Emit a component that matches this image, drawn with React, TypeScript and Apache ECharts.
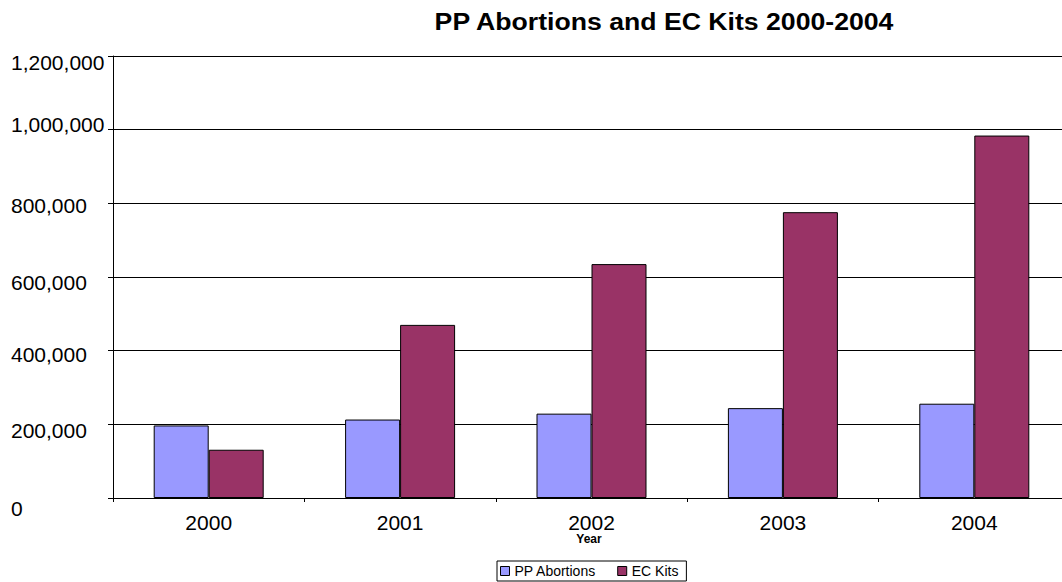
import React, { useEffect, useRef } from "react";
import * as echarts from "echarts";

const years = ["2000", "2001", "2002", "2003", "2004"];
const ppAbortions = [197000, 213000, 229000, 244000, 256000];
const ecKits = [131000, 470000, 635000, 776000, 984000];
const yTicks = [0, 200000, 400000, 600000, 800000, 1000000, 1200000];
const seriesNames = ["PP Abortions", "EC Kits"];
const titleText = "PP Abortions and EC Kits 2000-2004";
const xAxisTitle = "Year";

const FONT = '"Liberation Sans", Arial, Helvetica, sans-serif';

// small vertical nudges of y labels as seen in the reference (px, + = down)
const labelShift: Record<number, number> = {
  0: 10,
  200000: 6,
  400000: 4,
  600000: 5,
  800000: 2,
  1000000: -5,
  1200000: 6,
};

export default function App() {
  const ref = useRef<HTMLDivElement>(null);
  useEffect(() => {
    if (!ref.current) return;
    const chart = echarts.init(ref.current, undefined, { renderer: "svg" });
    const rich: Record<string, any> = {};
    yTicks.forEach((v, i) => {
      const d = labelShift[v] || 0;
      rich["s" + i] = {
        fontSize: 21,
        fontFamily: FONT,
        color: "#000",
        padding: d >= 0 ? [2 * d, 0, 0, 0] : [0, 0, -2 * d, 0],
      };
    });
    chart.setOption({
      animation: false,
      backgroundColor: "#fff",
      textStyle: { fontFamily: FONT },
      grid: { left: 113, right: 2, top: 56, bottom: 84, containLabel: false },
      legend: {
        data: seriesNames,
        left: 497,
        top: 561,
        orient: "horizontal",
        itemWidth: 9,
        itemHeight: 9,
        itemGap: 21,
        padding: [3, 8, 3, 3],
        borderColor: "#000",
        borderWidth: 1,
        icon: "rect",
        textStyle: { fontSize: 14, fontFamily: FONT, color: "#000", lineHeight: 14 },
        itemStyle: { borderColor: "#000", borderWidth: 1 },
      },
      xAxis: {
        type: "category",
        data: years,
        axisLine: { show: true, lineStyle: { color: "#000", width: 1 } },
        axisTick: { show: true, length: 4, lineStyle: { color: "#000" } },
        axisLabel: { fontSize: 21, fontFamily: FONT, color: "#000", margin: 14 },
        splitLine: { show: false },
      },
      yAxis: {
        type: "value",
        min: 0,
        max: 1200000,
        interval: 200000,
        axisLine: { show: true, lineStyle: { color: "#000", width: 1 } },
        axisTick: { show: true, length: 5, lineStyle: { color: "#000" } },
        splitLine: { show: true, lineStyle: { color: "#000", width: 1 } },
        axisLabel: {
          align: "left",
          margin: 102,
          formatter: (v: number) => {
            const i = yTicks.indexOf(v);
            return "{s" + i + "|" + v.toLocaleString("en-US") + "}";
          },
          rich,
        },
      },
      series: [
        {
          name: seriesNames[0],
          type: "bar",
          data: ppAbortions,
          barWidth: 55,
          barGap: "0%",
          itemStyle: { color: "#9999FF", borderColor: "#000", borderWidth: 1 },
        },
        {
          name: seriesNames[1],
          type: "bar",
          data: ecKits,
          barWidth: 55,
          barGap: "0%",
          itemStyle: { color: "#993366", borderColor: "#000", borderWidth: 1 },
        },
      ],
      graphic: [
        {
          type: "text",
          x: 664,
          y: 21,
          scaleX: 1.11,
          style: {
            text: titleText,
            fontSize: 24,
            fontWeight: "bold",
            fontFamily: FONT,
            fill: "#000",
            align: "center",
            verticalAlign: "middle",
            textAlign: "center",
            textVerticalAlign: "middle",
          },
        },
        {
          type: "text",
          x: 589,
          y: 539,
          style: {
            text: xAxisTitle,
            fontSize: 12,
            fontWeight: "bold",
            fontFamily: FONT,
            fill: "#000",
            align: "center",
            verticalAlign: "middle",
            textAlign: "center",
            textVerticalAlign: "middle",
          },
        },
      ],
    });
    return () => chart.dispose();
  }, []);
  return (
    <div
      style={{ position: "fixed", left: 0, top: 0, width: 1062, height: 582, overflow: "hidden", background: "#fff" }}
    >
      <div ref={ref} style={{ position: "absolute", left: 0, top: 0, width: 1072, height: 582 }} />
    </div>
  );
}
